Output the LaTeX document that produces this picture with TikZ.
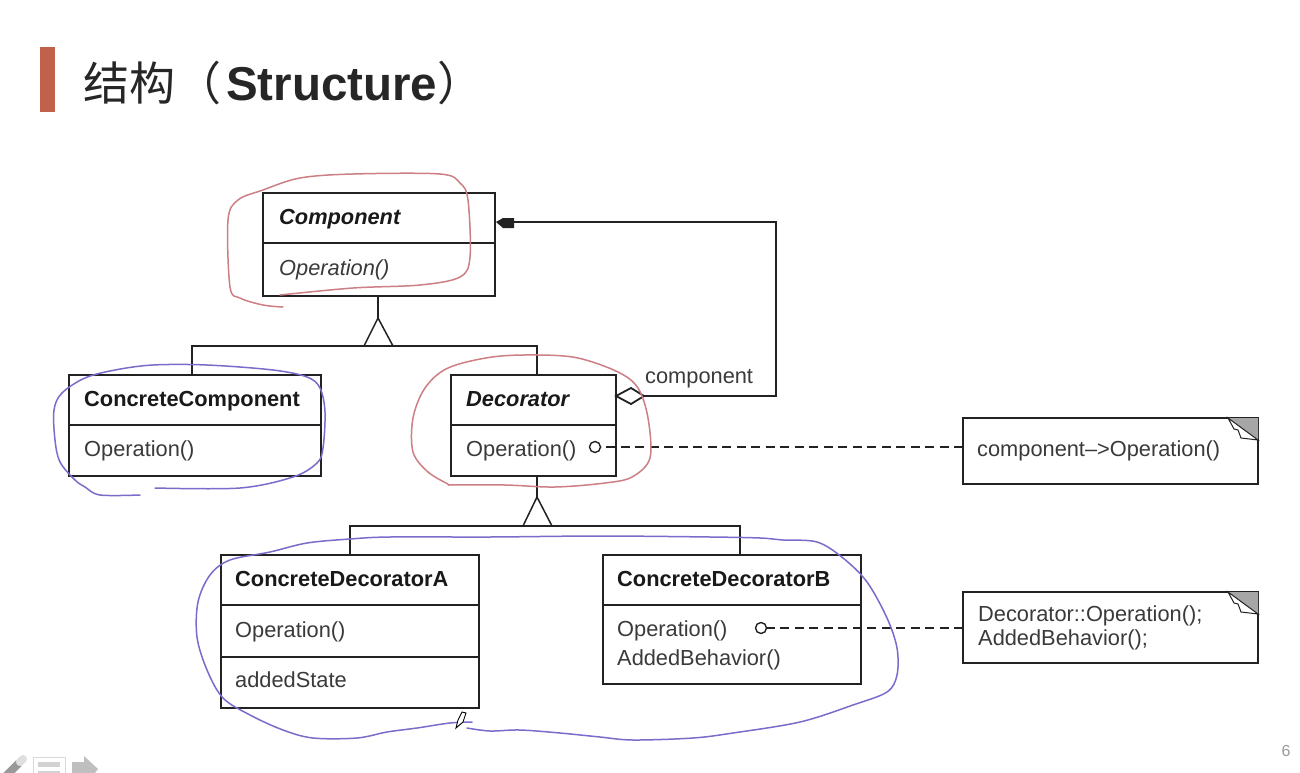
\documentclass[tikz,border=0pt]{standalone}
\usepackage{fontspec}
\setmainfont{Liberation Sans}
\newfontfamily\cjk{Noto Sans CJK SC}
\definecolor{inkred}{HTML}{CC7F84}
\definecolor{inkblue}{HTML}{7A6CCB}
\definecolor{umlline}{HTML}{222222}
\definecolor{umltext}{HTML}{3A3A3A}
\definecolor{barcol}{HTML}{BF6249}
\tikzset{
  classbox/.style={draw=umlline,line width=1.5pt,rectangle,inner sep=0pt,outer sep=0pt,anchor=north west},
  notebox/.style={draw=umlline,line width=1.5pt,rectangle,inner sep=0pt,outer sep=0pt,anchor=north west},
  label/.style={inner sep=0pt,anchor=base west,text=umltext,font=\fontsize{21.8}{21.8}\selectfont},
  strong/.style={inner sep=0pt,anchor=base west,text=black!90,font=\fontsize{21.8}{21.8}\selectfont\bfseries},
  titlebf/.style={inner sep=0pt,anchor=base west,text=black!85,font=\fontsize{47.5}{47.5}\selectfont},
  rule/.style={draw=umlline,line width=1.4pt},
  wire/.style={draw=umlline,line width=1.5pt},
  dashwire/.style={draw=umlline,line width=1.5pt,dash pattern=on 9pt off 5.5pt},
  redink/.style={draw=inkred,line width=1.5pt,line join=round,line cap=round},
  blueink/.style={draw=inkblue,line width=1.5pt,line join=round,line cap=round},
  pindot/.style={draw=umlline,line width=1.4pt,circle,inner sep=0pt,outer sep=0pt,minimum size=11pt,fill=white},
}
\newcommand{\umlbox}[5]{% name, x, y, width, height
  \node[classbox,minimum width=#4pt,minimum height=#5pt] (#1) at (#2,#3) {};}
\newcommand{\notefold}[1]{% page corner of a note, measured from its north east
  \fill[gray!70] (#1) ++(-30,0) -- (#1) -- ++(0,22) -- cycle;
  \draw[umlline,line width=1pt,fill=white] (#1) ++(-30,0) -- ++(30,22) -- ++(-17,-2) -- ++(-3,-8) -- ++(-4,-1) -- cycle;}
\begin{document}
\begin{tikzpicture}[x=1pt,y=-1pt]
\useasboundingbox (0,0) rectangle (1300,773);
\clip (0,0) rectangle (1300,773);
\fill[white] (0,0) rectangle (1300,773);

% slide heading
\fill[barcol] (40,47) rectangle (55,112);
\node[titlebf] (title) at (83,101) {{\cjk\fontsize{46}{46}\selectfont 结构（}\hspace{5pt}\textbf{Structure}{\cjk\fontsize{46}{46}\selectfont ）}};

% class boxes
\umlbox{component}{263}{193}{232}{103}
\umlbox{concrete}{69}{375}{252}{101}
\umlbox{decorator}{451}{375}{165}{101}
\umlbox{decoA}{221}{555}{258}{153}
\umlbox{decoB}{603}{555}{258}{129}
\node[notebox,minimum width=295pt,minimum height=66pt] (noteA) at (963,418) {};
\node[notebox,minimum width=295pt,minimum height=71pt] (noteB) at (963,592) {};

% compartment rules
\draw[rule] (263,243) -- (495,243);
\draw[rule] (69,425) -- (321,425);
\draw[rule] (451,425) -- (616,425);
\draw[rule] (221,605) -- (479,605);
\draw[rule] (221,657) -- (479,657);
\draw[rule] (603,605) -- (861,605);

% note page corners
\notefold{noteA.north east}
\notefold{noteB.north east}

% class texts
\node[strong] (t1) at (279,224) {\textit{Component}};
\node[label] (t2) at (279,275) {\textit{Operation()}};
\node[strong] (t3) at (84,406) {ConcreteComponent};
\node[label] (t4) at (84,456) {Operation()};
\node[strong] (t5) at (466,406) {\textit{Decorator}};
\node[label] (t6) at (466,456) {Operation()};
\node[strong] (t7) at (235,586) {ConcreteDecoratorA};
\node[label] (t8) at (235,637) {Operation()};
\node[label] (t9) at (235,687) {addedState};
\node[strong] (t10) at (617,586) {ConcreteDecoratorB};
\node[label] (t11) at (617,636) {Operation()};
\node[label] (t12) at (617,665) {AddedBehavior()};
\node[label] (t13) at (645,383) {component};
\node[label] (t14) at (977,456) {component–>Operation()};
\node[label] (t15) at (978,621) {Decorator::Operation();};
\node[label] (t16) at (978,645) {AddedBehavior();};

% inheritance from Component
\coordinate (apexA) at (378,318);
\draw[wire] (component.south -| apexA) -- (apexA);
\draw[wire,line join=miter] (364,346) -- (apexA) -- (393,346);
\draw[wire] (192,375) |- (537,346) -- (537,375);

% inheritance from Decorator
\coordinate (apexB) at (537,497);
\draw[wire] (decorator.south -| apexB) -- (apexB);
\draw[wire,line join=miter] (523,526) -- (apexB) -- (552,526);
\draw[wire] (350,555) |- (740,526) -- (740,555);

% aggregation with filled arrow back to Component
\coordinate (diaW) at (616,396);
\coordinate (diaE) at (644,396);
\draw[wire,line join=miter,line width=1.8pt] (diaW) -- (631,388) -- (diaE) -- (631,404) -- cycle;
\draw[wire] (diaE) -- (776,396) -- (776,222) -- (512,222);
\fill[umlline] (496,222) -- (503,218) -- (514,218) -- (514,228) -- (503,228) -- cycle;

% implementation notes
\node[pindot] (dotA) at (595,447) {};
\node[pindot] (dotB) at (761,628) {};
\draw[dashwire] (noteA.west |- dotA) -- (dotA);
\draw[dashwire] (noteB.west |- dotB) -- (dotB);

% freehand marks
\draw[redink] plot[smooth,tension=0.55] coordinates {(283,307)(263,305)(240,298)(230,287)(228,220)(238,200)(263,190)(300,178)(353,174)(440,174)(460,183)(468,200)(470,257)(460,277)(420,285)(353,288)(280,295)};
\draw[redink] plot[smooth,tension=0.55] coordinates {(448,484)(428,472)(413,452)(413,418)(425,388)(448,368)(492,357)(538,355)(578,358)(618,372)(638,388)(648,418)(650,458)(632,477)(605,483)(555,487)(505,485)(448,485)};
\draw[blueink] plot[smooth,tension=0.55] coordinates {(140,495)(100,495)(85,487)(75,480)(60,462)(55,440)(54,410)(62,393)(85,378)(115,370)(153,365)(207,365)(273,370)(307,377)(320,388)(325,412)(323,448)(317,463)(293,477)(240,488)(155,488)};
\draw[blueink] plot[smooth,tension=0.55] coordinates {(467,728)(490,731)(520,730)(560,733)(600,737)(633,740)(693,738)(733,733)(800,722)(853,705)(887,692)(897,675)(897,648)(887,618)(867,582)(843,558)(817,542)(783,540)(760,538)(710,537)(600,536)(490,537)(390,537)(350,539)(307,543)(270,552)(230,560)(210,575)(198,602)(197,637)(207,670)(223,698)(250,715)(283,730)(313,738)(357,738)(387,732)(417,728)(450,723)(472,722)};

% pen cursor
\draw[black,line width=0.9pt,fill=white] (456,728) -- (458,720) -- (462,712) -- (466,713) -- (463,722) -- cycle;

% slide controls and page number
\draw[gray!80,line width=8pt] (6,776) -- (19,763);
\draw[gray!25,line width=8pt,line cap=round] (20,762) -- (23,759);
\draw[gray!30,line width=1pt,fill=white] (33,775) -- (33,757) -- (65,757) -- (65,775);
\fill[gray!35] (38,762) rectangle (60,767);
\fill[gray!35] (38,771) rectangle (60,775);
\fill[gray!50] (72,762) -- (84,762) -- (84,756) -- (98,769) -- (95,773) -- (72,773) -- cycle;
\node[inner sep=0pt,anchor=base,text=gray!80,font=\fontsize{16}{16}\selectfont] (page) at (1286,756) {6};
\end{tikzpicture}
\end{document}
